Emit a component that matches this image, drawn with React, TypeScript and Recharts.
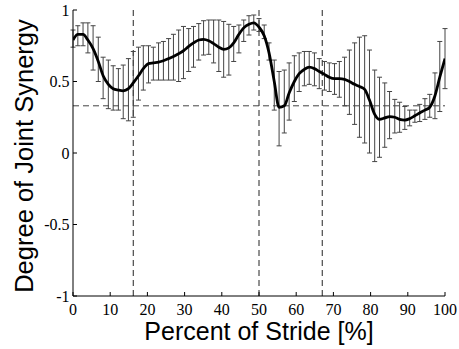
import {
  LineChart,
  Line,
  XAxis,
  YAxis,
  ErrorBar,
  ReferenceLine,
} from "recharts";

// stride samples (percent of stride), mean synergy and the spread around it
const STRIDE = [
  0, 1.3, 2.7, 4, 5.4, 6.8, 8.1, 9.5, 10.8, 12.2, 13.5, 14.9, 16.2, 17.6, 18.9,
  20.3, 21.6, 23, 24.3, 25.7, 27, 28.4, 29.7, 31.1, 32.4, 33.8, 35.1, 36.5,
  37.8, 39.2, 40.5, 41.9, 43.2, 44.6, 45.9, 47.3, 48.6, 50, 51.4, 52.7, 54.1,
  55.4, 56.8, 58.1, 59.5, 60.8, 62.2, 63.5, 64.9, 66.2, 67.6, 68.9, 70.3, 71.6,
  73, 74.3, 75.7, 77, 78.4, 79.7, 81.1, 82.4, 83.8, 85.1, 86.5, 87.8, 89.2,
  90.5, 91.9, 93.2, 94.6, 95.9, 97.3, 98.6, 100,
];
const MEAN = [
  0.79, 0.83, 0.83, 0.79, 0.73, 0.64, 0.54, 0.48, 0.45, 0.44, 0.435, 0.45,
  0.49, 0.54, 0.59, 0.625, 0.63, 0.635, 0.645, 0.66, 0.675, 0.695, 0.715,
  0.745, 0.77, 0.79, 0.795, 0.785, 0.765, 0.74, 0.725, 0.735, 0.77, 0.83,
  0.875, 0.9, 0.91, 0.88, 0.82, 0.7, 0.5, 0.32, 0.33, 0.42, 0.5, 0.555, 0.585,
  0.6, 0.59, 0.57, 0.55, 0.53, 0.52, 0.52, 0.515, 0.5, 0.48, 0.465, 0.445,
  0.37, 0.27, 0.235, 0.245, 0.255, 0.25, 0.235, 0.23, 0.24, 0.26, 0.28, 0.3,
  0.32, 0.4, 0.53, 0.66,
];
const LOWER = [
  0.74, 0.75, 0.75, 0.7, 0.58, 0.5, 0.38, 0.31, 0.3, 0.3, 0.24, 0.225, 0.25,
  0.37, 0.44, 0.49, 0.51, 0.51, 0.51, 0.51, 0.51, 0.5, 0.52, 0.57, 0.6, 0.65,
  0.685, 0.69, 0.63, 0.57, 0.53, 0.545, 0.64, 0.7, 0.78, 0.825, 0.86, 0.85,
  0.8, 0.65, 0.3, 0.05, 0.14, 0.23, 0.36, 0.43, 0.47, 0.48, 0.47, 0.45, 0.44,
  0.43, 0.41, 0.39, 0.33, 0.27, 0.2, 0.11, 0.07, 0.0, -0.06, -0.03, 0.04, 0.1,
  0.14, 0.145, 0.165, 0.19, 0.215, 0.22, 0.235, 0.25, 0.24, 0.29, 0.45,
];
const UPPER = [
  0.86, 0.89, 0.91, 0.91, 0.89, 0.81, 0.67, 0.65, 0.61, 0.59, 0.615, 0.66,
  0.71, 0.74, 0.75, 0.75, 0.74, 0.77, 0.78, 0.8, 0.83, 0.86, 0.885, 0.87,
  0.885, 0.905, 0.925, 0.93, 0.93, 0.93, 0.92, 0.9, 0.885, 0.895, 0.93, 0.96,
  0.965, 0.94, 0.895, 0.77, 0.65, 0.57, 0.58, 0.63, 0.68, 0.7, 0.71, 0.71, 0.7,
  0.66, 0.64, 0.63, 0.625, 0.64, 0.67, 0.72, 0.77, 0.81, 0.82, 0.72, 0.58, 0.53,
  0.49, 0.43, 0.375, 0.355, 0.325, 0.3, 0.3, 0.34, 0.38, 0.41, 0.56, 0.78, 0.87,
];

const X_TICKS = [0, 10, 20, 30, 40, 50, 60, 70, 80, 90, 100];
const Y_TICKS = [-1, -0.5, 0, 0.5, 1];
const PHASE_LINES = [16.2, 50, 67];
const THRESHOLD = 0.33;

const data = STRIDE.map((x, i) => ({
  x,
  mean: MEAN[i],
  err: [MEAN[i] - LOWER[i], UPPER[i] - MEAN[i]],
}));

const tickFont = { fontFamily: "Liberation Serif", fontSize: 16, fill: "#000" };
const titleFont: React.CSSProperties = {
  fontFamily: "Liberation Sans, Arial, sans-serif",
  lineHeight: "20px",
  color: "#000",
  position: "absolute",
  textAlign: "center",
  whiteSpace: "nowrap",
};

export default function App() {
  // pinned to the viewport so the body margin adds no scrollbar
  return (
    <div
      style={{
        position: "fixed",
        left: 0,
        top: 0,
        width: 459,
        height: 349,
        background: "#fff",
      }}
    >
      <LineChart
        width={459}
        height={349}
        data={data}
        margin={{ top: 10, right: 14, bottom: 0, left: 0 }}
      >
        <XAxis
          dataKey="x"
          type="number"
          domain={[0, 100]}
          ticks={X_TICKS}
          interval={0}
          allowDataOverflow
          height={53}
          stroke="#000"
          tick={tickFont}
          tickSize={-4}
          tickMargin={12}
        />
        <XAxis
          xAxisId="top"
          orientation="top"
          type="number"
          domain={[0, 100]}
          ticks={X_TICKS}
          interval={0}
          height={0}
          stroke="#000"
          tick={false}
          tickSize={-4}
        />
        <YAxis
          type="number"
          domain={[-1, 1]}
          ticks={Y_TICKS}
          interval={0}
          allowDataOverflow
          width={73}
          stroke="#000"
          tick={tickFont}
          tickSize={-4}
          tickMargin={7.5}
        />
        <YAxis
          yAxisId="right"
          orientation="right"
          type="number"
          domain={[-1, 1]}
          ticks={Y_TICKS}
          interval={0}
          width={0}
          stroke="#000"
          tick={false}
          tickSize={-4}
        />
        {PHASE_LINES.map((v) => (
          <ReferenceLine key={v} x={v} stroke="#222" strokeDasharray="6 4" />
        ))}
        <ReferenceLine y={THRESHOLD} stroke="#444" strokeDasharray="6 4" />
        <Line
          dataKey="mean"
          type="monotone"
          stroke="#000"
          strokeWidth={2.8}
          dot={false}
          isAnimationActive={false}
        >
          <ErrorBar
            dataKey="err"
            direction="y"
            width={2.5}
            stroke="#444"
            strokeWidth={1}
            isAnimationActive={false}
          />
        </Line>
      </LineChart>
      <div style={{ ...titleFont, fontSize: 25, left: 73, width: 372, top: 321 }}>
        Percent of Stride [%]
      </div>
      <div
        style={{
          ...titleFont,
          fontSize: 25.5,
          left: 24.2 - 150,
          top: 156 - 10,
          width: 300,
          height: 20,
          transform: "rotate(-90deg)",
        }}
      >
        Degree of Joint Synergy
      </div>
    </div>
  );
}
